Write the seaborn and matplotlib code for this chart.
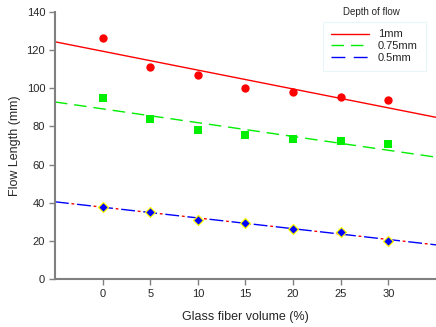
import numpy as np
import pandas as pd
import matplotlib
matplotlib.use("Agg")
import matplotlib.pyplot as plt
import seaborn as sns

fiber_volume = [0, 5, 10, 15, 20, 25, 30]
flow_1mm = [126.5, 111.3, 107.0, 100.3, 97.9, 95.4, 93.9]
flow_075mm = [95.1, 83.9, 77.9, 75.5, 73.4, 72.2, 70.6]
flow_05mm = [37.7, 35.3, 30.9, 29.4, 26.2, 24.8, 19.9]
depth_labels = ["1mm", "0.75mm", "0.5mm"]

sns.set_style("white")
plt.rcParams["font.family"] = ["Liberation Sans", "DejaVu Sans"]

df = pd.DataFrame({"x": fiber_volume, "d1": flow_1mm, "d075": flow_075mm, "d05": flow_05mm})

fig = plt.figure(figsize=(4.36, 3.27), dpi=100)
ax = fig.add_axes([0.126, 0.147, 0.874, 0.816])
ax.set_xlim(-5, 35)
ax.set_ylim(0, 140)

sns.regplot(data=df, x="x", y="d1", ax=ax, ci=None, truncate=False, marker="o",
            scatter_kws={"s": 36, "color": "#ff0000", "linewidths": 0, "alpha": 1},
            line_kws={"color": "#ff0000", "lw": 1, "label": depth_labels[0]})
sns.regplot(data=df, x="x", y="d075", ax=ax, ci=None, truncate=False, marker="s",
            scatter_kws={"s": 30, "color": "#00ee00", "linewidths": 0, "alpha": 1},
            line_kws={"color": "#00ee00", "lw": 1, "ls": (0, (9, 5)), "label": depth_labels[1]})
sns.regplot(data=df, x="x", y="d05", ax=ax, ci=None, truncate=False, marker="D",
            scatter_kws={"s": 26, "color": "#0000ff", "edgecolors": "#ffff00", "linewidths": 0.9,
                         "alpha": 1, "zorder": 4},
            line_kws={"color": "#0000ff", "lw": 1, "ls": (0, (10, 6)), "label": depth_labels[2]})
# red dots between the blue dashes
blue_line = ax.get_lines()[-1]
ax.plot(blue_line.get_xdata(), blue_line.get_ydata(), color="#ff0000", lw=1,
        ls=(4, (2, 14)), zorder=blue_line.get_zorder())

ax.set_xlim(-5, 35)
ax.set_ylim(0, 140)
ax.set_xticks(fiber_volume)
ax.set_yticks(np.arange(0, 141, 20))
ax.tick_params(axis="both", labelsize=8, length=4, width=1, color="#808080",
               direction="out", bottom=True, left=True, pad=3)
for side in ["top", "right"]:
    ax.spines[side].set_visible(False)
for side in ["left", "bottom"]:
    ax.spines[side].set_color("#808080")
    ax.spines[side].set_linewidth(1.5)

ax.set_xlabel("Glass fiber volume (%)", fontsize=9, labelpad=9)
ax.set_ylabel("Flow Length (mm)", fontsize=9, labelpad=4)

handles = ax.get_lines()[:3]
leg = ax.legend(handles=handles, labels=depth_labels, loc="upper left",
                bbox_to_anchor=(0.69, 0.985), fontsize=8, handlelength=3.4,
                labelspacing=0.15, frameon=True, fancybox=False, borderpad=0.7)
leg.get_frame().set_edgecolor("#e4f4f8")
leg.get_frame().set_linewidth(0.8)
ax.text(0.83, 1.0, "Depth of flow", transform=ax.transAxes, fontsize=7,
        ha="center", va="center")

fig.savefig("out.png", dpi=100)
